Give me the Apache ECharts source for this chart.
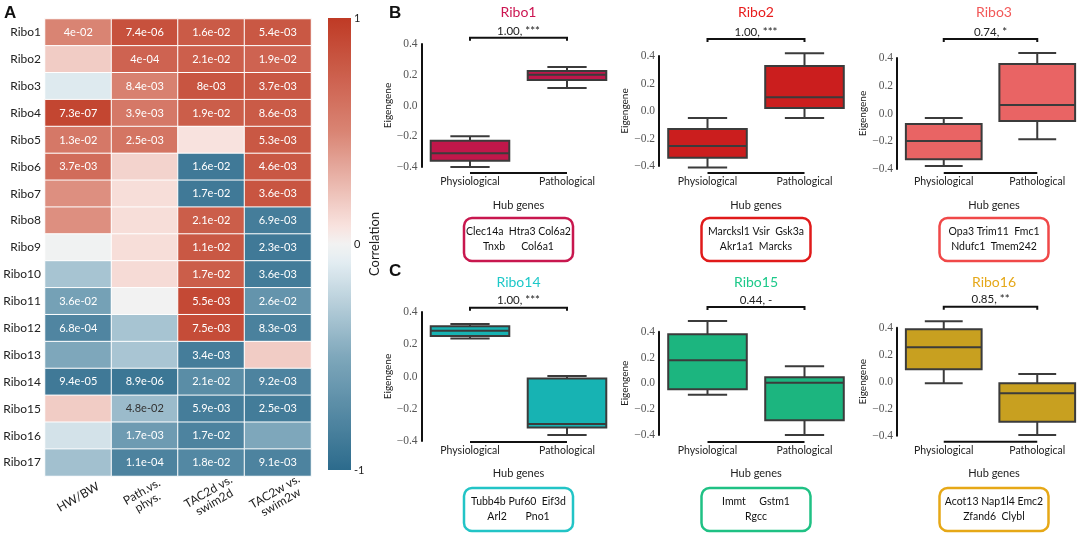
<!DOCTYPE html>
<html><head><meta charset="utf-8">
<script src="https://cdn.jsdelivr.net/npm/echarts@6/dist/echarts.min.js"></script>
<style>html,body{margin:0;padding:0;background:#fff}#c{width:1084px;height:537px}</style>
</head><body><div id="c"></div>
<script>
// ---------- DATA ----------
const modules = ['Ribo1','Ribo2','Ribo3','Ribo4','Ribo5','Ribo6','Ribo7','Ribo8','Ribo9','Ribo10','Ribo11','Ribo12','Ribo13','Ribo14','Ribo15','Ribo16','Ribo17'];
const traits = ['HW/BW','Path.vs.\nphys.','TAC2d vs.\nswim2d','TAC2w vs.\nswim2w'];
const corrHWBW  = [0.50,0.18,-0.10,0.92,0.58,0.66,0.45,0.45,-0.01,-0.33,-0.55,-0.78,-0.50,-0.88,0.18,-0.15,-0.35];
const corrPath  = [0.85,0.72,0.52,0.58,0.60,0.15,0.10,0.10,0.10,0.11,0.00,-0.33,-0.32,-0.90,-0.38,-0.60,-0.80];
const corrTAC2d = [0.78,0.75,0.82,0.76,0.08,-0.88,-0.88,0.76,0.80,0.76,0.90,0.88,-0.85,-0.72,-0.85,-0.80,-0.76];
const corrTAC2w = [0.80,0.72,0.80,0.78,0.80,0.80,0.82,-0.85,-0.88,-0.86,-0.66,-0.82,0.18,-0.80,-0.86,-0.50,-0.80];
const pHWBW  = ['4e-02','','','7.3e-07','1.3e-02','3.7e-03','','','','','3.6e-02','6.8e-04','','9.4e-05','','',''];
const pPath  = ['7.4e-06','4e-04','8.4e-03','3.9e-03','2.5e-03','','','','','','','','','8.9e-06','4.8e-02','1.7e-03','1.1e-04'];
const pTAC2d = ['1.6e-02','2.1e-02','8e-03','1.9e-02','','1.6e-02','1.7e-02','2.1e-02','1.1e-02','1.7e-02','5.5e-03','7.5e-03','3.4e-03','2.1e-02','5.9e-03','1.7e-02','1.8e-02'];
const pTAC2w = ['5.4e-03','1.9e-02','3.7e-03','8.6e-03','5.3e-03','4.6e-03','3.6e-03','6.9e-03','2.3e-03','3.6e-03','2.6e-02','8.3e-03','','9.2e-03','2.5e-03','','9.1e-03'];
const colorbarTicks = [-1, 0, 1];

const boxCategories = ['Physiological','Pathological'];
const boxModules = ['Ribo1','Ribo2','Ribo3','Ribo14','Ribo15','Ribo16'];
// [min, Q1, median, Q3, max] for Physiological, Pathological
const statsRibo1  = [[-0.40,-0.36,-0.31,-0.23,-0.20],[0.114,0.166,0.20,0.224,0.25]];
const statsRibo2  = [[-0.41,-0.34,-0.254,-0.131,-0.05],[-0.05,0.022,0.10,0.327,0.42]];
const statsRibo3  = [[-0.378,-0.33,-0.198,-0.076,-0.032],[-0.185,-0.054,0.062,0.357,0.436]];
const statsRibo14 = [[0.235,0.251,0.284,0.311,0.326],[-0.363,-0.317,-0.295,-0.013,0.003]];
const statsRibo15 = [[-0.088,-0.046,0.178,0.38,0.483],[-0.40,-0.286,0.005,0.047,0.132]];
const statsRibo16 = [[-0.012,0.092,0.255,0.388,0.447],[-0.394,-0.296,-0.085,-0.012,0.057]];
const boxStats = [statsRibo1, statsRibo2, statsRibo3, statsRibo14, statsRibo15, statsRibo16];
const sigLabels = ['1.00, ***','1.00, ***','0.74, *','1.00, ***','0.44, -','0.85, **'];
const sigLevels = [0.44, 0.524, 0.537, 0.427, 0.591, 0.555];
const hubLines = [
  ['Clec14a  Htra3 Col6a2','Tnxb      Col6a1'],
  ['Marcksl1 Vsir  Gsk3a','Akr1a1  Marcks'],
  ['Opa3 Trim11  Fmc1','Ndufc1  Tmem242'],
  ['Tubb4b Puf60  Eif3d','Arl2       Pno1'],
  ['Immt     Gstm1','Rgcc'],
  ['Acot13 Nap1l4 Emc2','Zfand6  Clybl']
];

// ---------- STYLE / LAYOUT ----------
const FONT = 'Lato';
const cmapStops = [[0,'#2c6b8c'],[0.25,'#7ea7bb'],[0.46,'#e3edf2'],[0.5,'#f2f2f2'],[0.54,'#f8e2de'],[0.75,'#d98473'],[1,'#bf3a25']];
function hexRgb(h){ return [1,3,5].map(k => parseInt(h.substr(k,2),16)); }
function cmapAt(t){
  for (let k = 1; k < cmapStops.length; k++) {
    if (t <= cmapStops[k][0] + 1e-9) {
      const [t0,c0] = cmapStops[k-1], [t1,c1] = cmapStops[k];
      const f = (t - t0) / (t1 - t0), a = hexRgb(c0), b = hexRgb(c1);
      return 'rgb(' + a.map((v,j) => Math.round(v + (b[j]-v)*f)).join(',') + ')';
    }
  }
  return cmapStops[cmapStops.length-1][1];
}
const NS = 101;
const cmapColors = Array.from({length:NS}, (_, k) => cmapAt(k/(NS-1)));

const fillColors   = ['#c0174a','#cb1e1e','#e96464','#17b3b3','#1cb57f','#c8a020'];
const titleColors  = ['#cc1551','#e81c1c','#f25858','#1ec8c8','#1dc98a','#e5a81a'];
const borderColors = ['#c8174e','#e01a1a','#f04848','#22c4c6','#1fc184','#e6a817'];
const panelC0  = [470, 707.5, 945.5, 470, 707.5, 945.5];
const panelTop = [44, 56, 58, 312, 331.7, 327.7];
const panelH   = [123, 110, 111, 129, 103.3, 108];
const panelXOff= [6, 7, 4, 1, 7, 6];
const band = 97;
const titleY = [12.5,12.5,12.5,282,282,282];
const hubLabelY = [205,205,205,473,473,473];
const hubBoxTop = [218,218,218,488,488,488];

const corrCols = [corrHWBW, corrPath, corrTAC2d, corrTAC2w];
const pCols = [pHWBW, pPath, pTAC2d, pTAC2w];

const heatData = [];
corrCols.forEach((col, c) => col.forEach((v, r) => {
  const lbl = pCols[c][r];
  heatData.push({value:[c, r, v], label:{show: lbl !== '', formatter: lbl, color: Math.abs(v) > 0.42 ? '#fff' : '#333'}});
}));

const grids = [
  {left:45, top:19, width:266, height:457},
  {left:328, top:18, width:23, height:452}
];
const xAxes = [
  {type:'category', gridIndex:0, data:traits, axisLine:{show:false}, axisTick:{show:false},
   axisLabel:{rotate:30, align:'center', verticalAlign:'middle', margin:21, fontSize:12, lineHeight:12, color:'#222', fontFamily:FONT, interval:0}},
  {type:'value', gridIndex:1, min:0, max:1, show:false}
];
const yAxes = [
  {type:'category', gridIndex:0, data:modules, inverse:true, axisLine:{show:false}, axisTick:{show:false},
   axisLabel:{fontSize:12, color:'#222', margin:4, fontFamily:FONT}},
  {type:'value', gridIndex:1, min:colorbarTicks[0], max:colorbarTicks[2], interval:1, position:'right',
   axisLine:{show:false}, axisTick:{show:false}, splitLine:{show:false},
   axisLabel:{fontSize:11, color:'#222', margin:3, fontFamily:FONT, formatter: v => String(v)},
   name:'Correlation', nameLocation:'middle', nameRotate:90, nameGap:16,
   nameTextStyle:{fontSize:13, color:'#222', fontFamily:FONT}}
];
const series = [
  {type:'heatmap', xAxisIndex:0, yAxisIndex:0, data:heatData,
   label:{show:true, fontSize:11, fontFamily:FONT},
   itemStyle:{borderColor:'#fff', borderWidth:1}, emphasis:{disabled:true}},
  {type:'custom', xAxisIndex:1, yAxisIndex:1, data:[[0, 0]], silent:true,
   renderItem: (params, api) => {
     const p0 = api.coord([0, 1]), p1 = api.coord([1, -1]);
     return {type:'rect', shape:{x:p0[0], y:p0[1], width:p1[0]-p0[0], height:p1[1]-p0[1]},
       style:{fill:{type:'linear', x:0, y:0, x2:0, y2:1,
         colorStops: cmapColors.map((c, k) => ({offset:1 - k/(NS-1), color:c})).reverse()}}};
   }}
];

const fmtTick = v => Math.abs(v) < 1e-9 ? '0.0' : (v < 0 ? '\u2212' : '') + Math.abs(v).toFixed(1);

const graphics = [
  {type:'text', x:4, y:5, style:{text:'A', fontSize:17, fontWeight:'bold', fontFamily:'Liberation Sans', fill:'#111'}},
  {type:'text', x:389, y:5, style:{text:'B', fontSize:17, fontWeight:'bold', fontFamily:'Liberation Sans', fill:'#111'}},
  {type:'text', x:389, y:263, style:{text:'C', fontSize:17, fontWeight:'bold', fontFamily:'Liberation Sans', fill:'#111'}}
];

boxModules.forEach((name, i) => {
  const g = grids.length;
  grids.push({left: panelC0[i] - band/2, top: panelTop[i], width: 2*band, height: panelH[i]});
  xAxes.push({type:'category', gridIndex:g, data:boxCategories, offset:panelXOff[i],
    axisLine:{show:false}, axisTick:{show:false},
    axisLabel:{margin:3, fontSize:10.5, color:'#222', fontFamily:FONT}});
  yAxes.push({type:'value', gridIndex:g, min:-0.4, max:0.4, interval:0.2,
    axisLine:{show:true, lineStyle:{color:'#111', width:2}}, axisTick:{show:false}, splitLine:{show:false},
    axisLabel:{formatter: fmtTick, fontFamily:'Liberation Serif', fontSize:11.5, color:'#555', margin:4},
    name:'Eigengene', nameLocation:'middle', nameGap:28,
    nameTextStyle:{fontSize:10, color:'#222', fontFamily:FONT}});
  const fill = fillColors[i];
  series.push({type:'custom', xAxisIndex:g, yAxisIndex:g, silent:true,
    encode:{x:0, y:[1,2,3,4,5]},
    data: boxStats[i].map((s, j) => [j, ...s]),
    renderItem: (params, api) => {
      const x = api.value(0);
      const y = k => api.coord([x, api.value(k)])[1];
      const cx = api.coord([x, 0])[0];
      const bw = api.size([1, 0])[0] * 0.81;
      const yMin = y(1), yQ1 = y(2), yMed = y(3), yQ3 = y(4), yMax = y(5);
      const st = {stroke:'#3b3b3b', lineWidth:2};
      return {type:'group', children:[
        {type:'line', shape:{x1:cx, y1:yQ3, x2:cx, y2:yMax}, style:st},
        {type:'line', shape:{x1:cx-bw/4, y1:yMax, x2:cx+bw/4, y2:yMax}, style:st},
        {type:'line', shape:{x1:cx, y1:yQ1, x2:cx, y2:yMin}, style:st},
        {type:'line', shape:{x1:cx-bw/4, y1:yMin, x2:cx+bw/4, y2:yMin}, style:st},
        {type:'rect', shape:{x:cx-bw/2, y:yQ3, width:bw, height:yQ1-yQ3}, style:{fill:fill, stroke:'#3b3b3b', lineWidth:2}},
        {type:'line', shape:{x1:cx-bw/2, y1:yMed, x2:cx+bw/2, y2:yMed}, style:st}
      ]};
    }});
  series.push({type:'custom', xAxisIndex:g, yAxisIndex:g, silent:true,
    encode:{x:0, y:1}, data:[[0, sigLevels[i]]],
    renderItem: (params, api) => {
      const a = api.coord([0, -0.4]), b = api.coord([1, -0.4]);
      const yl = a[1] + panelXOff[i];
      const s0 = api.coord([0, sigLevels[i]]), s1 = api.coord([1, sigLevels[i]]);
      return {type:'group', children:[
        {type:'line', shape:{x1:a[0], y1:yl, x2:b[0], y2:yl}, style:{stroke:'#111', lineWidth:2}},
        {type:'polyline', shape:{points:[[s0[0], s0[1]+3],[s0[0], s0[1]],[s1[0], s1[1]],[s1[0], s1[1]+3]]},
         style:{stroke:'#111', lineWidth:2, fill:null}},
        {type:'text', x:(s0[0]+s1[0])/2, y:s0[1]-1,
         style:{text:sigLabels[i], align:'center', verticalAlign:'bottom', fontSize:11.5, fontFamily:FONT, fill:'#222'}}
      ]};
    }});
  const cx = panelC0[i] + band/2;
  graphics.push({type:'text', x:cx, y:titleY[i], style:{text:name, align:'center', verticalAlign:'middle', fontSize:14, fontFamily:FONT, fill:titleColors[i]}});
  graphics.push({type:'text', x:cx, y:hubLabelY[i], style:{text:'Hub genes', align:'center', verticalAlign:'middle', fontSize:11, fontFamily:FONT, fill:'#222'}});
  graphics.push({type:'rect', shape:{x:cx-54.5, y:hubBoxTop[i], width:109, height:43, r:8},
    style:{fill:'#fff', stroke:borderColors[i], lineWidth:2.5}});
  graphics.push({type:'text', x:cx, y:hubBoxTop[i]+21.5, style:{text:hubLines[i].join('\n'), align:'center', verticalAlign:'middle',
    fontSize:10.5, lineHeight:15, fontFamily:FONT, fill:'#111'}});
});

const option = {
  animation:false,
  backgroundColor:'#fff',
  textStyle:{fontFamily:FONT},
  grid: grids, xAxis: xAxes, yAxis: yAxes,
  visualMap: {type:'continuous', show:false, min:-1, max:1, seriesIndex:0, dimension:2,
    inRange:{color: cmapColors}},
  series: series,
  graphic: graphics
};
const chart = echarts.init(document.getElementById('c'));
chart.setOption(option);
</script></body></html>
